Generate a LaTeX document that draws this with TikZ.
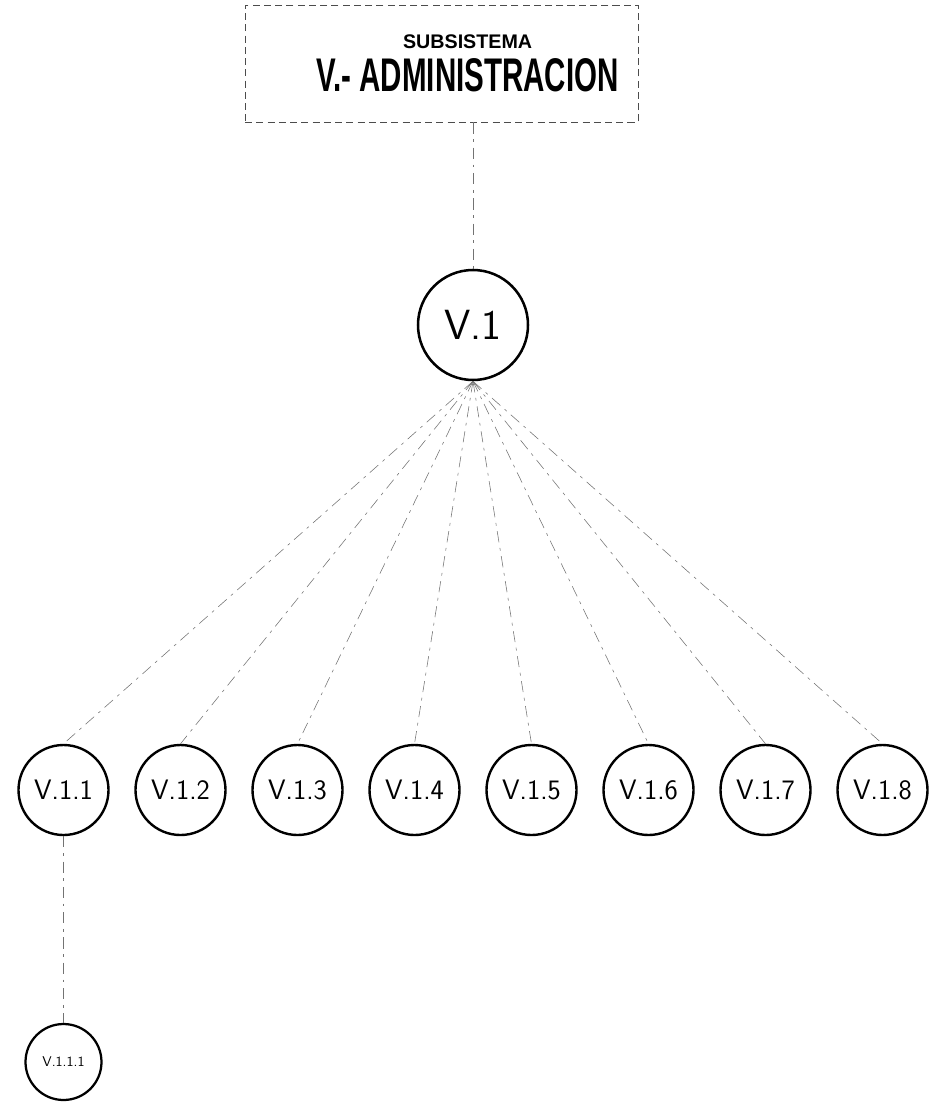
\documentclass[tikz,border=0pt]{standalone}
\usepackage{graphicx}
\usepackage{fontspec}
\newfontfamily\titlefont{Liberation Sans}
\begin{document}
\begin{tikzpicture}[
    every node/.style={font=\sffamily},
    titlebox/.style={rectangle, draw=black!70, thin, dash pattern=on 5pt off 3pt,
        minimum width=9.825cm, minimum height=2.925cm, align=center, inner sep=0pt},
    topic/.style={circle, draw=black, solid, line width=1.8pt, minimum size=2.75cm,
        inner sep=0pt, font=\sffamily\fontsize{30}{30}\selectfont},
    subtopic/.style={circle, draw=black, solid, line width=1.7pt, minimum size=2.25cm,
        inner sep=0pt, font=\sffamily\fontsize{20}{20}\selectfont},
    leaf/.style={circle, draw=black, solid, line width=1.6pt, minimum size=1.9cm,
        inner sep=0pt, font=\sffamily\fontsize{10}{10}\selectfont},
    link/.style={draw=black!55, thin, dash pattern=on 8pt off 4pt on 2pt off 4pt},
    edge from parent/.style={link},
    edge from parent path={(\tikzparentnode.south) -- (\tikzchildnode.north)},
    level 1/.style={level distance=11.625cm, sibling distance=2.925cm},
    level 2/.style={level distance=6.8cm},
]
\useasboundingbox (0,0) rectangle (23.425,-27.625);

% subsystem header
\node[titlebox] (title) at (11.04,-1.59)
    {\hspace*{1.3cm}{\titlefont\bfseries\fontsize{14}{16}\selectfont SUBSISTEMA}\\[6pt]
     \hspace*{1.3cm}{\titlefont\bfseries\fontsize{21}{21}\selectfont\scalebox{1}[1.6]{V.- ADMINISTRACION}}};

% process tree
\node[topic] (v1) at (11.825,-8.125) {V.1}
    child { node[subtopic] (v11) {V.1.1}
        child { node[leaf] (v111) {V.1.1.1} }
    }
    child { node[subtopic] (v12) {V.1.2} }
    child { node[subtopic] (v13) {V.1.3} }
    child { node[subtopic] (v14) {V.1.4} }
    child { node[subtopic] (v15) {V.1.5} }
    child { node[subtopic] (v16) {V.1.6} }
    child { node[subtopic] (v17) {V.1.7} }
    child { node[subtopic] (v18) {V.1.8} };

\draw[link] (title.south -| v1) -- (v1.north);
\end{tikzpicture}
\end{document}
